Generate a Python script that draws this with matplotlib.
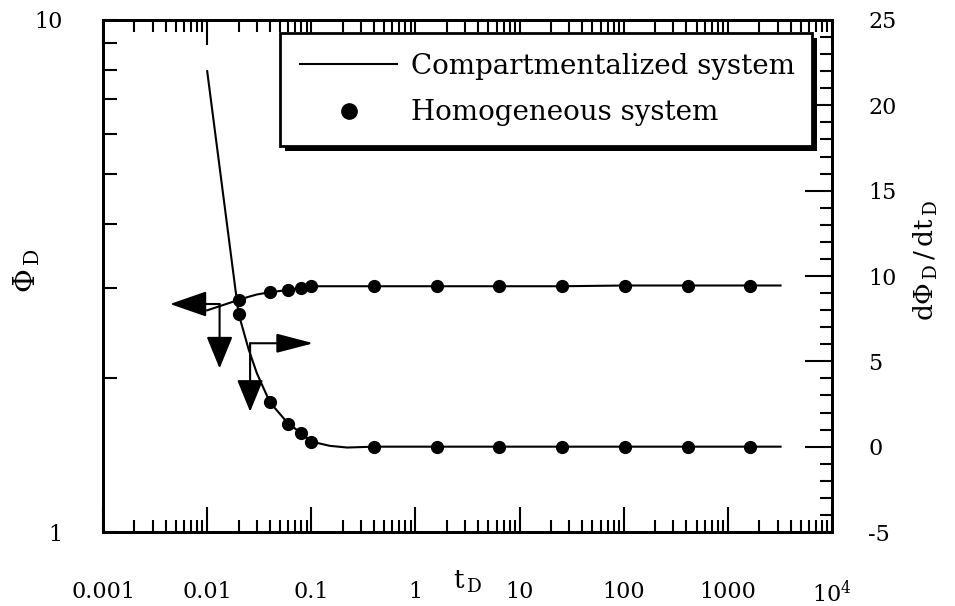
import matplotlib
matplotlib.use("Agg")
import matplotlib.pyplot as plt
import matplotlib.patheffects as pe
from matplotlib.lines import Line2D
from matplotlib.ticker import FixedLocator, LogLocator, NullFormatter, MultipleLocator

plt.rcParams['font.family'] = ['DejaVu Serif']
plt.rcParams['mathtext.fontset'] = 'dejavuserif'
plt.rcParams['axes.unicode_minus'] = False

# compartmentalized system (solid lines)
t_comp = [0.01, 0.02, 0.025, 0.03, 0.04, 0.06, 0.08, 0.1, 0.15, 0.22, 0.4,
          1.6, 6.4, 25.6, 102.4, 409.6, 1638.4, 3200]
phi_comp = [2.71, 2.84, 2.88, 2.91, 2.94, 2.97, 3.00, 3.02, 3.02, 3.02, 3.02,
            3.02, 3.02, 3.02, 3.03, 3.03, 3.03, 3.03]
dphi_comp = [22.0, 7.8, 5.7, 4.3, 2.6, 1.35, 0.8, 0.3, 0.05, -0.05, 0.0,
             0.0, 0.0, 0.0, 0.0, 0.0, 0.0, 0.0]

# homogeneous system (dots)
t_homo = [0.02, 0.04, 0.06, 0.08, 0.1, 0.4, 1.6, 6.4, 25.6, 102.4, 409.6, 1638.4]
phi_homo = [2.84, 2.94, 2.97, 3.00, 3.02, 3.02, 3.02, 3.02, 3.02, 3.02, 3.03, 3.03]
dphi_homo = [7.8, 2.6, 1.35, 0.8, 0.3, 0.0, 0.0, 0.0, 0.0, 0.0, 0.0, 0.0]

x_ticks = [0.001, 0.01, 0.1, 1, 10, 100, 1000, 10000]
x_ticklabels = ['0.001', '0.01', '0.1', '1', '10', '100', '1000', r'$10^4$']
y_left_ticks = [1, 10]
y_left_ticklabels = ['1', '10']
y_right_ticks = [-5, 0, 5, 10, 15, 20, 25]

fig = plt.figure(figsize=(9.55, 6.06), dpi=100)
ax = fig.add_axes([0.1079, 0.1221, 0.7634, 0.8449])
ax2 = ax.twinx()

ax.plot(t_comp, phi_comp, color='k', lw=1.5)
ax.plot(t_homo, phi_homo, 'o', color='k', ms=8.5)
ax2.plot(t_comp, dphi_comp, color='k', lw=1.5)
ax2.plot(t_homo, dphi_homo, 'o', color='k', ms=8.5)

ax.set_xscale('log')
ax.set_yscale('log')
ax.set_xlim(0.001, 10000)
ax.set_ylim(1, 10)
ax2.set_ylim(-5, 25)

ax.xaxis.set_major_locator(FixedLocator(x_ticks))
ax.set_xticklabels(x_ticklabels)
ax.xaxis.set_minor_locator(LogLocator(base=10, subs=range(2, 10), numticks=20))
ax.xaxis.set_minor_formatter(NullFormatter())
ax.yaxis.set_major_locator(FixedLocator(y_left_ticks))
ax.set_yticklabels(y_left_ticklabels)
ax.yaxis.set_minor_locator(LogLocator(base=10, subs=range(2, 10)))
ax.yaxis.set_minor_formatter(NullFormatter())
ax2.yaxis.set_major_locator(FixedLocator(y_right_ticks))
ax2.yaxis.set_minor_locator(MultipleLocator(1))

for spine in ax.spines.values():
    spine.set_linewidth(2)
for spine in ax2.spines.values():
    spine.set_linewidth(2)

ax.tick_params(axis='x', which='both', direction='in', top=True, width=1.5,
               labelsize=16, pad=35)
ax.tick_params(axis='x', which='major', length=18)
ax.tick_params(axis='x', which='minor', length=8.5)
ax.tick_params(axis='y', which='both', direction='in', width=1.5, labelsize=16,
               pad=29, length=10)
ax2.tick_params(axis='y', which='both', direction='in', width=1.5, labelsize=16,
                pad=26)
ax2.tick_params(axis='y', which='major', length=19.5)
ax2.tick_params(axis='y', which='minor', length=8.5)

ax.set_xlabel(r'$\mathrm{t}_{\,\mathrm{D}}$', fontsize=19)
ax.xaxis.set_label_coords(0.5007, -0.072)
ax.set_ylabel(r'$\Phi_{\,\mathrm{D}}$', fontsize=21)
ax.yaxis.set_label_coords(-0.084, 0.51)
ax2.set_ylabel(r'$\mathrm{d}\Phi_{\,\mathrm{D}}\,/\,\mathrm{dt}_{\,\mathrm{D}}$', fontsize=19)
ax2.yaxis.set_label_coords(1.11, 0.53)

# arrows telling which axis each curve belongs to
arrow_kw = dict(color='k', lw=1.5, shrinkA=0, shrinkB=0, mutation_scale=10)
head_down = '-|>,head_length=2.0,head_width=0.82'
ax.annotate('', xy=(0.0044, 2.788), xytext=(0.01315, 2.788),
            arrowprops=dict(arrowstyle='-|>,head_length=2.3,head_width=0.8', **arrow_kw))
ax.annotate('', xy=(0.01315, 2.087), xytext=(0.01315, 2.788),
            arrowprops=dict(arrowstyle=head_down, **arrow_kw))
ax2.annotate('', xy=(0.1047, 6.06), xytext=(0.02582, 6.06),
             arrowprops=dict(arrowstyle='-|>,head_length=2.3,head_width=0.6', **arrow_kw))
ax2.annotate('', xy=(0.02582, 2.05), xytext=(0.02582, 6.06),
             arrowprops=dict(arrowstyle=head_down, **arrow_kw))

handles = [Line2D([], [], color='k', lw=1.5),
           Line2D([], [], ls='none', marker='o', color='k', ms=11)]
leg = ax2.legend(handles, ['Compartmentalized system', 'Homogeneous system'],
                 loc='upper left', bbox_to_anchor=(0.243, 0.756, 0.730, 0.219),
                 mode='expand', borderaxespad=0, fontsize=20, frameon=True,
                 fancybox=False, edgecolor='k', framealpha=1,
                 borderpad=0.71, labelspacing=0.71, handlelength=3.5,
                 handletextpad=0.5)
frame = leg.get_frame()
frame.set_linewidth(2)
frame.set_path_effects([pe.SimplePatchShadow(offset=(3.5, -3.5), shadow_rgbFace='k', alpha=1.0),
                        pe.Normal()])

fig.savefig('out.png', dpi=100)
